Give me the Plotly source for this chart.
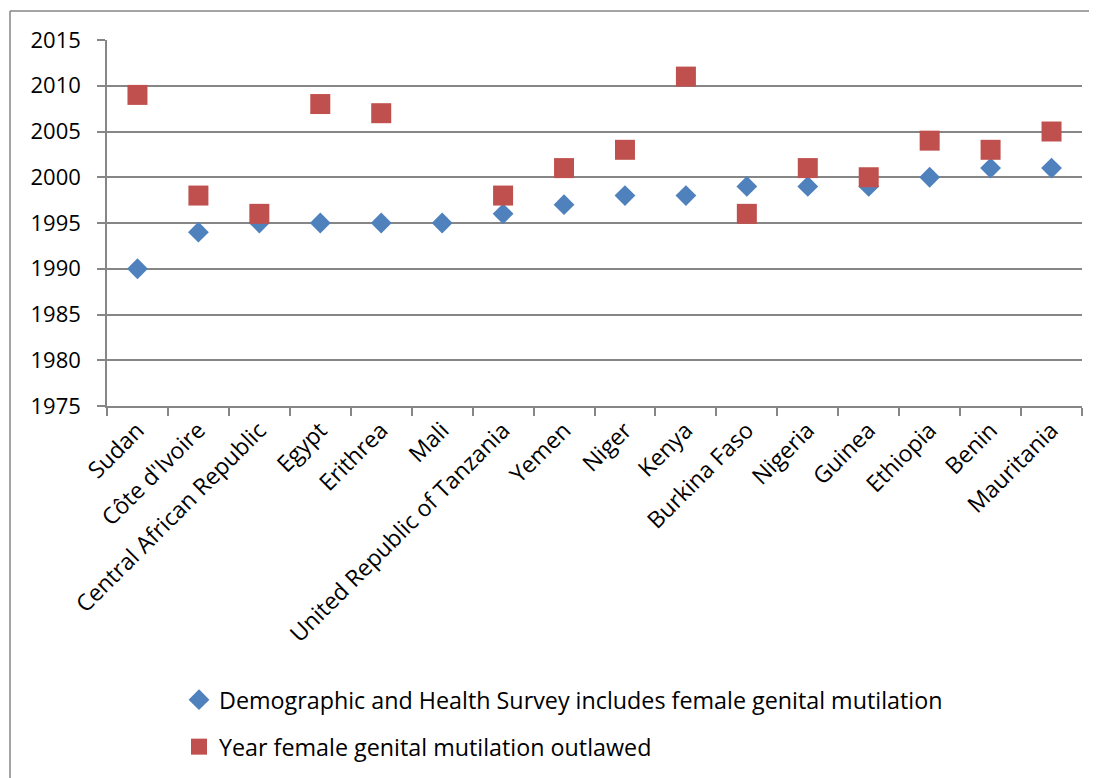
import plotly.graph_objects as go

countries = ["Sudan", "Côte d'Ivoire", "Central African Republic", "Egypt", "Erithrea",
             "Mali", "United Republic of Tanzania", "Yemen", "Niger", "Kenya",
             "Burkina Faso", "Nigeria", "Guinea", "Ethiopia", "Benin", "Mauritania"]
dhs_year = [1990, 1994, 1995, 1995, 1995, 1995, 1996, 1997, 1998, 1998,
            1999, 1999, 1999, 2000, 2001, 2001]
outlawed_year = [2009, 1998, 1996, 2008, 2007, None, 1998, 2001, 2003, 2011,
                 1996, 2001, 2000, 2004, 2003, 2005]
y_ticks = [1975, 1980, 1985, 1990, 1995, 2000, 2005, 2010, 2015]

FONT = "Open Sans, sans-serif"
OFF = 8  # page body margin offset
W, H = 1097, 778
L, R, T, B = 107 - OFF, 1082 - OFF, 40 - OFF, 406 - OFF

fig = go.Figure()
fig.add_trace(go.Scatter(
    x=countries, y=dhs_year, mode="markers",
    name="Demographic and Health Survey includes female genital mutilation",
    marker=dict(symbol="diamond", size=16, color="#4F81BD"),
    legend="legend"))
fig.add_trace(go.Scatter(
    x=countries, y=outlawed_year, mode="markers",
    name="Year female genital mutilation outlawed",
    marker=dict(symbol="square", size=20, color="#C0504D"),
    legend="legend2"))

def px_x(px):
    return (px - OFF - L) / (R - L)

def px_y(py):
    return (B - (py - OFF)) / (B - T)

grey = "#868686"
fig.update_layout(
    width=W, height=H,
    margin=dict(l=L, r=W - R, t=T, b=H - B, pad=0),
    paper_bgcolor="white", plot_bgcolor="white",
    font=dict(family=FONT, size=22, color="black"),
    xaxis=dict(type="category", tickson="boundaries", ticks="outside", ticklen=8,
               tickcolor=grey, tickwidth=1.5, showgrid=False, showline=True,
               linecolor=grey, linewidth=1.5, tickangle=-45, automargin=False,
               tickfont=dict(family=FONT, size=23), range=[-0.5, 15.5]),
    yaxis=dict(range=[1975, 2015], tickvals=y_ticks, ticks="outside", ticklen=8,
               tickcolor=grey, tickwidth=1.5, showgrid=True, gridcolor=grey,
               gridwidth=1.5, showline=True, linecolor=grey, linewidth=1.5,
               zeroline=False, automargin=False, ticklabelstandoff=12,
               tickfont=dict(family=FONT, size=22)),
    showlegend=True,
    legend=dict(x=px_x(179), y=px_y(700), xanchor="left", yanchor="middle",
                font=dict(family=FONT, size=23.3), bgcolor="rgba(0,0,0,0)",
                itemwidth=30),
    legend2=dict(x=px_x(179), y=px_y(747), xanchor="left", yanchor="middle",
                 font=dict(family=FONT, size=23.3), bgcolor="rgba(0,0,0,0)",
                 itemwidth=30),
    shapes=[
        dict(type="line", xref="paper", yref="paper", x0=px_x(10), x1=px_x(10),
             y0=px_y(11), y1=px_y(800), line=dict(color=grey, width=1.5)),
        dict(type="line", xref="paper", yref="paper", x0=px_x(10), x1=px_x(1120),
             y0=px_y(11), y1=px_y(11), line=dict(color=grey, width=1.5)),
    ],
)

fig.write_html("out.html")
